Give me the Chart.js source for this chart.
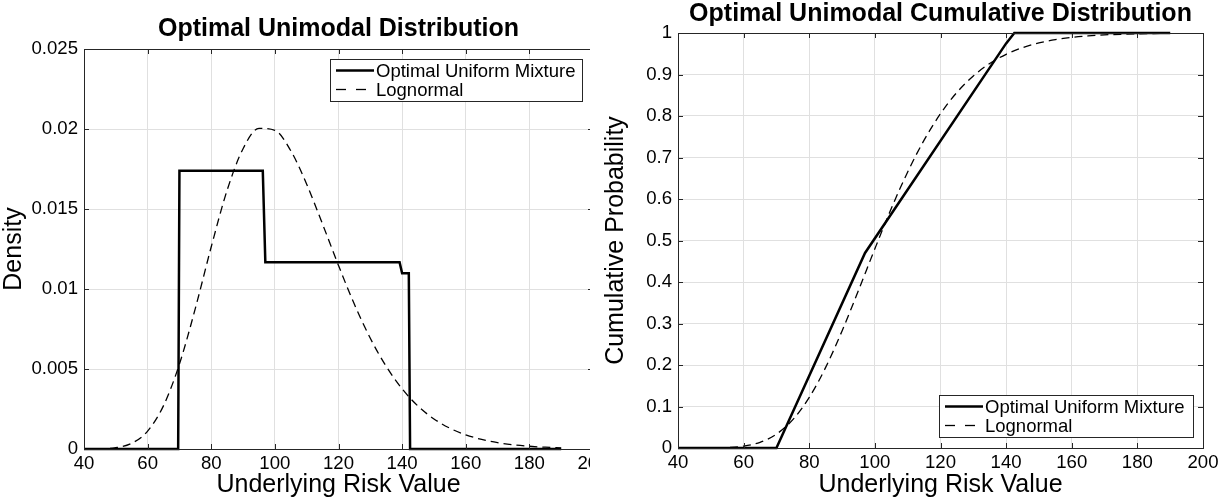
<!DOCTYPE html>
<html>
<head>
<meta charset="utf-8">
<script src="https://cdn.jsdelivr.net/npm/chart.js@4.4.1/dist/chart.umd.min.js"></script>
<style>
  html, body { margin: 0; padding: 0; background: #fff; }
  #page { position: relative; width: 1228px; height: 500px; overflow: hidden; }
  #leftWrap { position: absolute; left: 0; top: 0; width: 590px; height: 500px; overflow: hidden; }
  #leftWrap div { position: absolute; left: 0; top: 0; width: 640px; height: 500px; }
  #rightWrap { position: absolute; left: 600px; top: 0; width: 628px; height: 500px; }
</style>
</head>
<body>
<div id="page">
  <div id="leftWrap"><div><canvas id="densityChart"></canvas></div></div>
  <div id="rightWrap"><canvas id="cdfChart"></canvas></div>
</div>
<script>
// values
const mixX = [40, 69.6, 70.0, 96.2, 97.0, 139.2, 140.0, 142.1, 142.5, 190];
const mixDensity = [0, 0, 0.01739, 0.01739, 0.01167, 0.01167, 0.01098, 0.01098, 0, 0];

const logX = [40, 45, 50, 55, 60, 65, 70, 75, 80, 85, 90, 95, 100, 105, 110, 115,
              120, 125, 130, 135, 140, 145, 150, 155, 160, 165, 170, 175, 180, 185, 190];
const logDensity = [0.000001, 0.0000125, 0.0000827, 0.000358, 0.00112, 0.00271, 0.00531, 0.00879,
                    0.01264, 0.01618, 0.01877, 0.02004, 0.01992, 0.01864, 0.01655, 0.01405,
                    0.01147, 0.00904, 0.00692, 0.00516, 0.00376, 0.00268, 0.00188, 0.0013,
                    0.000885, 0.000595, 0.000396, 0.000261, 0.000171, 0.000111, 0.000071];
const logCdf = [0, 0.000026, 0.00022, 0.00119, 0.00461, 0.01377, 0.0334, 0.0684,
                0.1219, 0.1942, 0.2821, 0.3797, 0.4802, 0.577, 0.6652, 0.7418,
                0.8056, 0.8568, 0.8965, 0.9266, 0.9487, 0.9647, 0.976, 0.9839,
                0.9893, 0.9929, 0.9954, 0.997, 0.9981, 0.9988, 0.9992];

const cdfMixX = [40, 70, 97, 140, 142.5, 190];
const cdfMix = [0, 0, 0.47, 0.975, 1, 1];

const xTicks = [40, 60, 80, 100, 120, 140, 160, 180, 200];
const seriesNames = ['Optimal Uniform Mixture', 'Lognormal'];

const FONT = 'Liberation Sans, Arial, Helvetica, sans-serif';
const pts = (xs, ys) => xs.map((x, i) => ({ x: x, y: ys[i] }));

// MATLAB-like box, inward ticks and inset legend
const matlabBox = {
  id: 'matlabBox',
  afterDraw(chart) {
    const { ctx, chartArea: a, scales } = chart;
    const o = chart.options.plugins.matlabBox;
    ctx.save();
    ctx.strokeStyle = '#262626';
    ctx.lineWidth = 1;
    ctx.strokeRect(Math.round(a.left) + 0.5, Math.round(a.top) + 0.5,
                   Math.round(a.right - a.left), Math.round(a.bottom - a.top));
    ctx.beginPath();
    scales.x.ticks.forEach(t => {
      const px = Math.round(scales.x.getPixelForValue(t.value)) + 0.5;
      ctx.moveTo(px, a.bottom); ctx.lineTo(px, a.bottom - 5);
      ctx.moveTo(px, a.top); ctx.lineTo(px, a.top + 5);
    });
    scales.y.ticks.forEach(t => {
      const py = Math.round(scales.y.getPixelForValue(t.value)) + 0.5;
      ctx.moveTo(a.left, py); ctx.lineTo(a.left + 5, py);
      ctx.moveTo(a.right, py); ctx.lineTo(a.right - 5, py);
    });
    ctx.stroke();

    // legend
    const L = o.legend;
    ctx.fillStyle = '#fff';
    ctx.fillRect(L.x, L.y, L.w, L.h);
    ctx.strokeStyle = '#262626';
    ctx.strokeRect(L.x + 0.5, L.y + 0.5, L.w, L.h);
    ctx.font = '18.5px ' + FONT;
    ctx.textBaseline = 'middle';
    ctx.textAlign = 'left';
    chart.data.datasets.forEach((ds, i) => {
      const cy = Math.round(L.y + 11 + i * 18.6) + 0.5;
      ctx.beginPath();
      ctx.strokeStyle = '#000';
      ctx.lineWidth = ds.borderWidth;
      ctx.setLineDash(ds.borderDash ? [10, 10] : []);
      ctx.moveTo(L.x + 6, cy); ctx.lineTo(L.x + 44, cy);
      ctx.stroke();
      ctx.setLineDash([]);
      ctx.fillStyle = '#000';
      ctx.fillText(ds.label, L.x + 46, cy + 1);
    });
    ctx.restore();
  }
};

function makeOptions(cfg) {
  return {
    responsive: true,
    maintainAspectRatio: false,
    animation: false,
    layout: { padding: { left: 0, right: cfg.padRight, top: 0, bottom: 0 } },
    elements: { point: { radius: 0 } },
    plugins: {
      legend: { display: false },
      tooltip: { enabled: false },
      title: {
        display: true,
        text: cfg.title,
        fullSize: false,
        color: '#000',
        font: { family: FONT, size: 25, weight: 'bold', lineHeight: 1 },
        padding: cfg.titlePad
      },
      matlabBox: { legend: cfg.legend }
    },
    scales: {
      x: {
        type: 'linear',
        min: 40, max: 200,
        afterBuildTicks: s => { s.ticks = xTicks.map(v => ({ value: v })); },
        afterFit: s => { s.height = cfg.xHeight; },
        grid: { color: '#e0e0e0', drawTicks: false },
        border: { display: false },
        ticks: { color: '#000', padding: 4, maxRotation: 0, font: { family: FONT, size: 18.6 } },
        title: {
          display: true, text: 'Underlying Risk Value', color: '#000',
          font: { family: FONT, size: 25, lineHeight: 1 },
          padding: { top: 0, bottom: 2 }
        }
      },
      y: {
        type: 'linear',
        min: 0, max: cfg.yMax,
        afterFit: s => { s.width = cfg.yWidth; },
        grid: { color: '#e0e0e0', drawTicks: false },
        border: { display: false },
        ticks: {
          stepSize: cfg.yStep, color: '#000', padding: 6,
          font: { family: FONT, size: 18.6 },
          callback: v => String(+v.toFixed(4))
        },
        title: {
          display: true, text: cfg.yTitle, color: '#000',
          font: { family: FONT, size: 25, lineHeight: 1 },
          padding: { top: cfg.yTitlePad, bottom: 0 }
        }
      }
    }
  };
}

new Chart(document.getElementById('densityChart'), {
  type: 'line',
  data: {
    datasets: [
      { label: seriesNames[0], data: pts(mixX, mixDensity), borderColor: '#000', borderWidth: 2.5, tension: 0, clip: false },
      { label: seriesNames[1], data: pts(logX, logDensity), borderColor: '#000', borderWidth: 1.3, borderDash: [8, 5], cubicInterpolationMode: 'monotone', clip: false }
    ]
  },
  options: makeOptions({
    title: 'Optimal Unimodal Distribution',
    titlePad: { top: 17, bottom: 7 },
    padRight: 47,
    xHeight: 51,
    yWidth: 84,
    yMax: 0.025,
    yStep: 0.005,
    yTitle: 'Density',
    yTitlePad: 2,
    legend: { x: 330, y: 59, w: 252, h: 42 }
  }),
  plugins: [matlabBox]
});

new Chart(document.getElementById('cdfChart'), {
  type: 'line',
  data: {
    datasets: [
      { label: seriesNames[0], data: pts(cdfMixX, cdfMix), borderColor: '#000', borderWidth: 2.5, tension: 0, clip: false },
      { label: seriesNames[1], data: pts(logX, logCdf), borderColor: '#000', borderWidth: 1.3, borderDash: [8, 5], cubicInterpolationMode: 'monotone', clip: false }
    ]
  },
  options: makeOptions({
    title: 'Optimal Unimodal Cumulative Distribution',
    titlePad: { top: 2, bottom: 6 },
    padRight: 25,
    xHeight: 52,
    yWidth: 78,
    yMax: 1,
    yStep: 0.1,
    yTitle: 'Cumulative Probability',
    yTitlePad: 4,
    legend: { x: 339, y: 395, w: 254, h: 42 }
  }),
  plugins: [matlabBox]
});
</script>
</body>
</html>
